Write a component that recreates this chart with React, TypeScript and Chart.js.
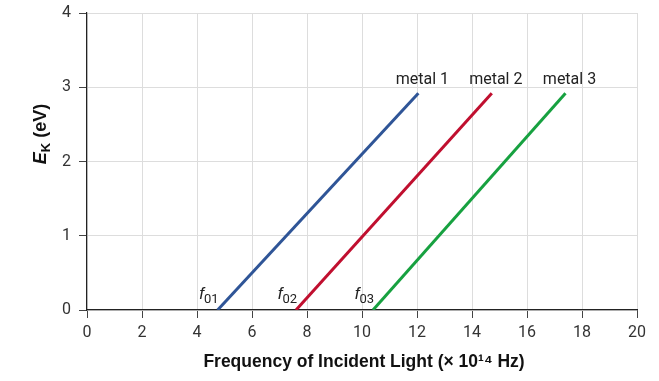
import React, { useEffect, useRef } from "react";
import { Chart, registerables } from "chart.js";
Chart.register(...registerables);

const seriesNames = ["metal 1", "metal 2", "metal 3"];
const thresholdLabels = ["01", "02", "03"];
const metal1 = [{ x: 4.75, y: 0 }, { x: 12.05, y: 2.92 }];
const metal2 = [{ x: 7.6, y: 0 }, { x: 14.72, y: 2.92 }];
const metal3 = [{ x: 10.4, y: 0 }, { x: 17.4, y: 2.92 }];
const colors = ["#2f5597", "#c00f2f", "#17a140"];
const xTicks = [0, 2, 4, 6, 8, 10, 12, 14, 16, 18, 20];
const yTicks = [0, 1, 2, 3, 4];

const labelPlugin = {
  id: "labels",
  afterDraw(chart: any) {
    const ctx = chart.ctx;
    const xs = chart.scales.x;
    const ys = chart.scales.y;
    ctx.save();
    chart.data.datasets.forEach((ds: any, i: number) => {
      const end = ds.data[ds.data.length - 1];
      const start = ds.data[0];
      const ex = xs.getPixelForValue(end.x);
      const ey = ys.getPixelForValue(end.y);
      ctx.fillStyle = "#222";
      ctx.font = "16px Roboto";
      ctx.textAlign = "center";
      ctx.textBaseline = "alphabetic";
      ctx.fillText(seriesNames[i], ex + 4, ey - 9);
      // threshold labels
      const sx = xs.getPixelForValue(start.x);
      const sy = ys.getPixelForValue(start.y);
      ctx.font = "13px Roboto";
      const subW = ctx.measureText(thresholdLabels[i]).width;
      ctx.textAlign = "left";
      ctx.fillText(thresholdLabels[i], sx + 1 - subW, sy - 7);
      ctx.font = "italic 17px 'Liberation Sans'";
      const fW = ctx.measureText("f").width;
      ctx.fillText("f", sx + 1 - subW - fW, sy - 11);
    });
    // x title
    ctx.fillStyle = "#111";
    ctx.font = "bold 17.5px 'Liberation Sans'";
    ctx.textAlign = "center";
    ctx.fillText("Frequency of Incident Light (\u00d7 10\u00b9\u2074 Hz)", 364, 367);
    // y title
    ctx.translate(46, 134);
    ctx.rotate(-Math.PI / 2);
    ctx.textAlign = "left";
    const parts = [
      { t: "E", f: "italic bold 18px 'Liberation Sans'", dy: 0 },
      { t: "K", f: "bold 13px 'Liberation Sans'", dy: 4 },
      { t: " (eV)", f: "bold 18px 'Liberation Sans'", dy: 0 },
    ];
    let total = 0;
    parts.forEach((p) => { ctx.font = p.f; total += ctx.measureText(p.t).width; });
    let x = -total / 2;
    parts.forEach((p) => {
      ctx.font = p.f;
      ctx.fillText(p.t, x, p.dy);
      x += ctx.measureText(p.t).width;
    });
    ctx.restore();
  },
};

export default function App() {
  const ref = useRef<HTMLCanvasElement>(null);
  useEffect(() => {
    const chart = new Chart(ref.current!, {
      type: "scatter",
      data: {
        datasets: [metal1, metal2, metal3].map((d, i) => ({
          label: seriesNames[i],
          data: d,
          showLine: true,
          borderColor: colors[i],
          backgroundColor: colors[i],
          borderWidth: 3,
          pointRadius: 0,
        })),
      },
      options: {
        animation: false,
        responsive: false,
        layout: { padding: { top: 13, right: 22, left: 0, bottom: 0 } },
        plugins: { legend: { display: false }, tooltip: { enabled: false } },
        scales: {
          x: {
            type: "linear",
            min: 0,
            max: 20,
            afterBuildTicks: (s: any) => { s.ticks = xTicks.map((v) => ({ value: v })); },
            afterFit: (s: any) => { s.height = 71; },
            grid: { color: "#dddddd", tickColor: "#444", tickLength: 8 },
            border: { color: "#222", width: 1.2 },
            ticks: { color: "#333", font: { family: "Roboto", size: 16 }, padding: 5, maxRotation: 0 },
          },
          y: {
            type: "linear",
            min: 0,
            max: 4,
            afterBuildTicks: (s: any) => { s.ticks = yTicks.map((v) => ({ value: v })); },
            afterFit: (s: any) => { s.width = 87; s.paddingTop = 0; s.paddingBottom = 0; },
            grid: { color: "#dddddd", tickColor: "#444", tickLength: 8 },
            border: { color: "#222", width: 1.2 },
            ticks: { color: "#333", font: { family: "Roboto", size: 16 }, padding: 8 },
          },
        },
      },
      plugins: [labelPlugin],
    });
    return () => chart.destroy();
  }, []);
  return (
    <canvas
      ref={ref}
      width={659}
      height={381}
      style={{ position: "fixed", left: 0, top: 0, width: 659, height: 381, background: "#fff" }}
    />
  );
}
